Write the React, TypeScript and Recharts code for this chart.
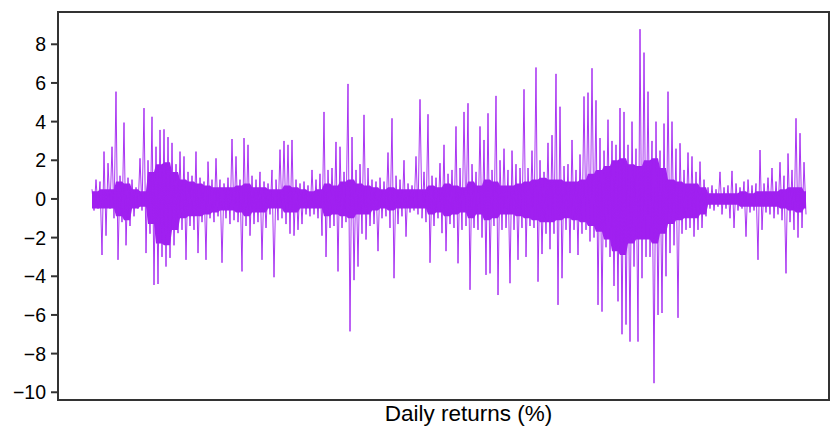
import React from "react";
import { ComposedChart, Line, Area, XAxis, YAxis, ReferenceArea } from "recharts";

// Upper (positive) and lower (negative) extremes of the daily returns
const upperReturns: number[] = [
  0.5, 1.0, 0.9, 2.45, 1.85, 2.7, 5.55, 1.2, 3.95, 1.1,
  1.0, 0.6, 2.1, 4.7, 2.0, 4.25, 2.7, 3.57, 3.6, 3.2,
  2.9, 1.8, 2.45, 2.2, 1.4, 1.2, 2.45, 1.1, 0.9, 1.93,
  1.0, 2.1, 1.0, 0.8, 1.1, 3.1, 2.2, 1.0, 3.15, 2.8,
  1.2, 1.0, 1.4, 0.9, 0.8, 1.5, 1.0, 2.55, 3.0, 2.8,
  3.05, 1.0, 0.8, 0.9, 0.7, 1.5, 1.0, 1.3, 4.5, 1.5,
  1.6, 2.95, 2.7, 1.4, 5.95, 3.2, 1.5, 1.8, 4.35, 1.6,
  1.0, 0.9, 1.1, 0.9, 2.4, 4.17, 1.2, 1.0, 2.0, 0.8,
  0.7, 2.2, 5.15, 1.4, 4.38, 1.2, 1.1, 1.85, 2.8, 1.3,
  1.5, 3.75, 1.6, 4.5, 4.95, 1.8, 1.4, 3.75, 3.05, 4.43,
  1.5, 5.33, 2.0, 2.6, 1.5, 2.5, 1.8, 1.6, 5.67, 1.6,
  2.5, 6.8, 2.0, 1.4, 2.9, 3.3, 6.47, 4.77, 1.7, 1.8,
  3.05, 1.5, 2.3, 5.3, 5.5, 6.76, 5.1, 3.15, 2.5, 4.1,
  3.0, 2.8, 4.7, 4.5, 2.8, 4.0, 2.6, 8.78, 7.57, 5.55,
  3.0, 4.0, 2.5, 3.9, 5.55, 4.0, 2.6, 2.88, 1.5, 2.4,
  2.2, 1.4, 1.93, 1.0, 0.6, 0.7, 0.5, 1.4, 0.6, 0.7,
  1.45, 0.8, 0.6, 0.9, 1.0, 0.7, 0.8, 2.53, 0.8, 1.1,
  1.6, 0.9, 1.9, 1.2, 2.35, 1.5, 4.17, 3.4, 1.9,
];

const lowerReturns: number[] = [
  -0.6, -0.5, -2.9, -1.9, -0.5, -1.0, -3.15, -1.2, -2.4, -1.4,
  -0.9, -0.5, -0.6, -2.8, -1.8, -4.45, -4.4, -3.0, -3.5, -3.05,
  -2.4, -1.77, -1.6, -3.15, -1.4, -1.6, -2.8, -1.2, -3.15, -1.0,
  -1.2, -0.9, -3.3, -1.0, -1.3, -1.1, -1.2, -3.75, -1.4, -1.9,
  -1.3, -1.2, -3.15, -1.5, -0.8, -4.05, -1.1, -1.0, -1.3, -1.8,
  -1.9, -1.6, -1.3, -0.8, -0.9, -0.8, -1.0, -1.9, -3.0, -1.5,
  -1.4, -3.75, -1.5, -1.2, -6.85, -4.2, -3.5, -1.8, -2.1, -1.4,
  -1.3, -2.7, -1.0, -0.9, -1.5, -4.1, -1.3, -0.9, -1.95, -0.7,
  -0.6, -0.8, -1.0, -1.2, -3.3, -1.4, -1.0, -1.77, -2.7, -1.3,
  -1.5, -3.33, -1.6, -1.4, -4.7, -1.5, -1.6, -2.0, -3.93, -3.85,
  -1.4, -4.97, -1.6, -1.5, -4.36, -1.6, -3.15, -1.5, -3.0, -1.4,
  -1.5, -4.28, -2.85, -1.8, -2.6, -1.8, -5.48, -4.1, -1.6, -2.8,
  -1.6, -2.9, -1.8, -1.6, -2.2, -2.0, -5.48, -5.83, -2.5, -3.0,
  -4.5, -5.3, -7.0, -6.5, -7.38, -3.5, -7.38, -4.1, -3.0, -3.0,
  -9.53, -6.0, -5.9, -4.0, -2.8, -2.4, -6.15, -1.8, -1.6, -1.5,
  -1.95, -1.6, -1.5, -0.9, -0.5, -0.6, -0.4, -0.8, -0.5, -1.0,
  -1.5, -0.6, -0.5, -1.95, -0.7, -0.6, -3.15, -1.6, -0.7, -0.8,
  -1.0, -0.8, -1.1, -3.85, -1.2, -1.6, -2.0, -1.5, -0.8,
];

// Dense core band of typical daily moves (upper / lower edge), one value per two extreme pairs
const coreUpper: number[] = [
  0.4, 0.5, 0.5, 0.9, 0.8, 0.5, 0.4, 1.4, 1.8, 1.9,
  1.4, 1.0, 0.9, 0.8, 0.7, 0.6, 0.6, 0.6, 0.7, 0.8,
  0.6, 0.6, 0.5, 0.5, 0.7, 0.6, 0.5, 0.4, 0.5, 0.8,
  0.7, 0.9, 1.0, 0.8, 0.7, 0.6, 0.5, 0.6, 0.5, 0.5,
  0.5, 0.5, 0.7, 0.6, 0.8, 0.7, 0.6, 0.9, 0.7, 1.0,
  0.9, 0.7, 0.7, 0.8, 0.9, 1.0, 1.1, 1.0, 1.0, 0.9,
  0.9, 1.0, 1.3, 1.5, 1.7, 2.0, 2.1, 1.8, 1.7, 2.0,
  2.1, 1.6, 1.0, 0.9, 0.8, 0.8, 0.6, 0.3, 0.3, 0.3,
  0.3, 0.4, 0.3, 0.4, 0.4, 0.4, 0.5, 0.6, 0.6, 0.4,
];

const coreLower: number[] = [
  -0.5, -0.5, -0.5, -0.9, -1.1, -0.5, -0.4, -1.3, -2.3, -2.4,
  -1.6, -1.0, -0.9, -0.9, -0.8, -0.7, -0.6, -0.6, -0.7, -0.9,
  -0.7, -0.7, -0.5, -0.5, -0.7, -0.7, -0.5, -0.5, -0.5, -0.9,
  -0.8, -0.9, -1.0, -0.8, -0.8, -0.6, -0.5, -0.6, -0.5, -0.5,
  -0.5, -0.5, -0.8, -0.7, -0.9, -0.8, -0.7, -1.0, -0.8, -1.1,
  -1.0, -0.8, -0.8, -0.9, -1.0, -1.1, -1.2, -1.2, -1.1, -1.0,
  -1.1, -1.2, -1.4, -1.7, -2.1, -2.7, -2.9, -2.3, -2.1, -2.1,
  -2.3, -1.8, -1.3, -1.1, -1.0, -1.0, -0.8, -0.3, -0.3, -0.3,
  -0.3, -0.4, -0.4, -0.4, -0.4, -0.4, -0.5, -0.6, -0.7, -0.5,
];

const yTicks: number[] = [-10, -8, -6, -4, -2, 0, 2, 4, 6, 8];
const xLabel = "Daily returns (%)";

type Row = { t: number; r: number; core: [number, number] };
const data: Row[] = [];
upperReturns.forEach((u, k) => {
  const j = Math.min(coreUpper.length - 1, Math.floor(k / 2));
  const core: [number, number] = [coreLower[j], coreUpper[j]];
  data.push({ t: 2 * k, r: u, core });
  data.push({ t: 2 * k + 1, r: lowerReturns[k], core });
});

const FONT = "'Liberation Sans', Arial, Helvetica, sans-serif";
const PURPLE = "#a020f0";
const fmt = (v: number) => String(v).replace("-", "\u2212");

export default function App() {
  return (
    <div style={{ position: "absolute", left: 0, top: 0 }}>
      <ComposedChart
        width={831}
        height={429}
        data={data}
        margin={{ top: 12, right: 2, bottom: 0, left: 0 }}
      >
        <XAxis
          dataKey="t"
          type="number"
          domain={[-17, 368.5]}
          tick={false}
          tickLine={false}
          axisLine={false}
          height={29}
          label={{
            value: xLabel,
            position: "insideBottom",
            offset: 0,
            dx: 25,
            dy: -8,
            fill: "#000",
            fontSize: 22.5,
            fontFamily: FONT,
          }}
        />
        <YAxis
          type="number"
          domain={[-10.4, 9.67]}
          ticks={yTicks}
          width={58}
          tickFormatter={fmt}
          axisLine={false}
          tickLine={{ stroke: "#333", strokeWidth: 2 }}
          tickSize={7}
          tickMargin={5}
          tick={{ fill: "#000", fontSize: 19.5, fontFamily: FONT }}
          allowDataOverflow
        />
        <Area
          type="linear"
          dataKey="core"
          stroke="none"
          fill={PURPLE}
          fillOpacity={1}
          isAnimationActive={false}
        />
        <Line
          type="linear"
          dataKey="r"
          stroke={PURPLE}
          strokeWidth={0.9}
          dot={false}
          isAnimationActive={false}
        />
        <ReferenceArea
          x1={-17}
          x2={368.5}
          y1={-10.4}
          y2={9.67}
          fill="none"
          stroke="#333"
          strokeWidth={2}
          ifOverflow="extendDomain"
        />
      </ComposedChart>
    </div>
  );
}
